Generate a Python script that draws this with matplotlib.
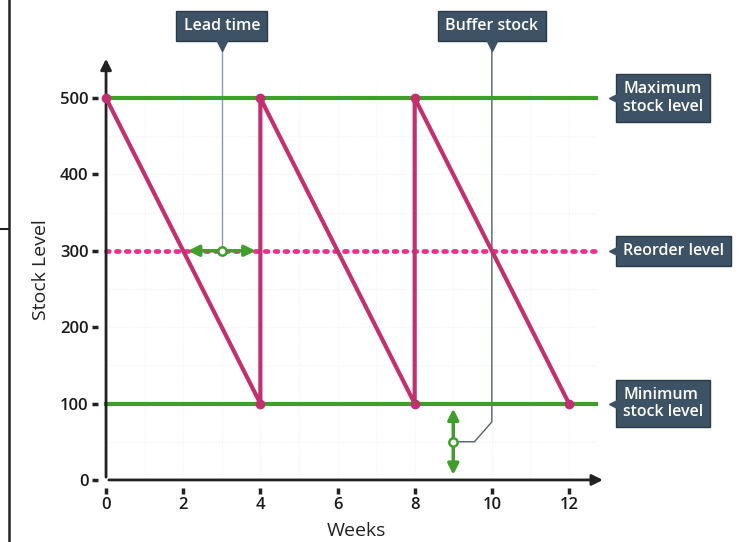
import numpy as np
import matplotlib.pyplot as plt
from matplotlib.lines import Line2D

plt.rcParams['font.family'] = ['Open Sans', 'DejaVu Sans']

# Data
weeks = [0, 4, 4, 8, 8, 12]
stock = [500, 100, 500, 100, 500, 100]
max_level = 500
reorder_level = 300
min_level = 100
x_ticks = [0, 2, 4, 6, 8, 10, 12]
y_ticks = [0, 100, 200, 300, 400, 500]
right_labels = ["Maximum\nstock level", "Reorder level", "Minimum\nstock level"]
right_levels = [max_level, reorder_level, min_level]

pink = "#c2306f"
green = "#3f9e2c"
dots = "#ea2f8c"
box_col = "#3e5266"
pointer_col = "#8a9bb0"

fig = plt.figure(figsize=(7.46, 5.42), dpi=100)
ax = fig.add_axes([0.1318, 0.1004, 0.693, 0.8033])
ax.set_xlim(-0.2, 13.2)
ax.set_ylim(-10, 560)
for s in ax.spines.values():
    s.set_visible(False)

# faint background grid
for gy in np.arange(50, 500, 50):
    ax.plot([0, 12.7], [gy, gy], color="#efefef", lw=0.8, ls=":", zorder=0)
for gx in np.arange(1, 13, 1):
    ax.plot([gx, gx], [0, 520], color="#f4f4f4", lw=0.8, ls=":", zorder=0)

# axes with arrows
ax.annotate("", xy=(12.95, 0), xytext=(0, 0),
            arrowprops=dict(arrowstyle="-|>", color="#222222", lw=2, mutation_scale=16),
            annotation_clip=False, zorder=3)
ax.annotate("", xy=(0, 555), xytext=(0, 0),
            arrowprops=dict(arrowstyle="-|>", color="#222222", lw=2, mutation_scale=16),
            annotation_clip=False, zorder=3)

ax.set_xticks(x_ticks)
ax.set_yticks(y_ticks)
ax.tick_params(length=4, width=2.5, color="#222222", labelsize=12, pad=3,
               labelcolor="#1a1a1a")
for lab in ax.get_xticklabels() + ax.get_yticklabels():
    lab.set_fontweight("semibold")
ax.set_xlabel("Weeks", fontsize=14, color="#222222", labelpad=6)
ax.set_ylabel("Stock Level", fontsize=14, color="#222222", labelpad=7)

# levels
ax.plot([0, 12.7], [max_level, max_level], color=green, lw=3, zorder=2)
ax.plot([0, 12.7], [min_level, min_level], color=green, lw=3, zorder=2)
ax.plot([0, 12.7], [reorder_level, reorder_level], color=dots, lw=3.4,
        ls=(0, (0.6, 1.5)), dash_capstyle="round", zorder=2)

# stock sawtooth
ax.plot(weeks, stock, color=pink, lw=3, marker="o", ms=6, zorder=4,
        solid_joinstyle="round")

# lead time arrow
ax.annotate("", xy=(2.05, reorder_level), xytext=(3.95, reorder_level),
            arrowprops=dict(arrowstyle="<|-|>", color=green, lw=2.5, mutation_scale=16),
            zorder=5)
ax.plot([3, 3], [reorder_level, 575], color=pointer_col, lw=1, zorder=1, clip_on=False)
ax.plot(3, reorder_level, "o", ms=6, mfc="white", mec=green, mew=1.8, zorder=6)

# buffer stock arrow
ax.annotate("", xy=(9, 97), xytext=(9, 3),
            arrowprops=dict(arrowstyle="<|-|>", color=green, lw=2.5, mutation_scale=16),
            zorder=5)
ax.plot([10, 10, 9.55, 9], [575, 76, 50, 50], color="#555f6a", lw=1, zorder=1,
        clip_on=False)
ax.plot(9, 50, "o", ms=6, mfc="white", mec=green, mew=1.8, zorder=6)

# top label boxes
for xc, txt in [(3, "Lead time"), (10, "Buffer stock")]:
    ax.text(xc, 594, txt, ha="center", va="center", color="white", fontsize=11.5,
            fontweight="semibold", clip_on=False,
            bbox=dict(boxstyle="square,pad=0.45", fc=box_col, ec="#2c3a48", lw=1))
    ax.plot(xc, 570, marker="v", ms=8, color=box_col, clip_on=False, zorder=3)

# right label boxes
for lvl, txt in zip(right_levels, right_labels):
    ax.text(13.4, lvl, txt, ha="left", va="center", color="white", fontsize=11.5,
            fontweight="semibold", clip_on=False, linespacing=1.1,
            bbox=dict(boxstyle="square,pad=0.45", fc=box_col, ec="#2c3a48", lw=1))
    ax.plot(13.18, lvl, marker="<", ms=8, color=box_col, clip_on=False, zorder=3)

# scanned page border
fig.add_artist(Line2D([9 / 746, 9 / 746], [0, 1], color="#222222", lw=1.8))
fig.add_artist(Line2D([0, 9 / 746], [1 - 229 / 542, 1 - 229 / 542], color="#222222", lw=1.5))

fig.savefig("out.png", dpi=100)
